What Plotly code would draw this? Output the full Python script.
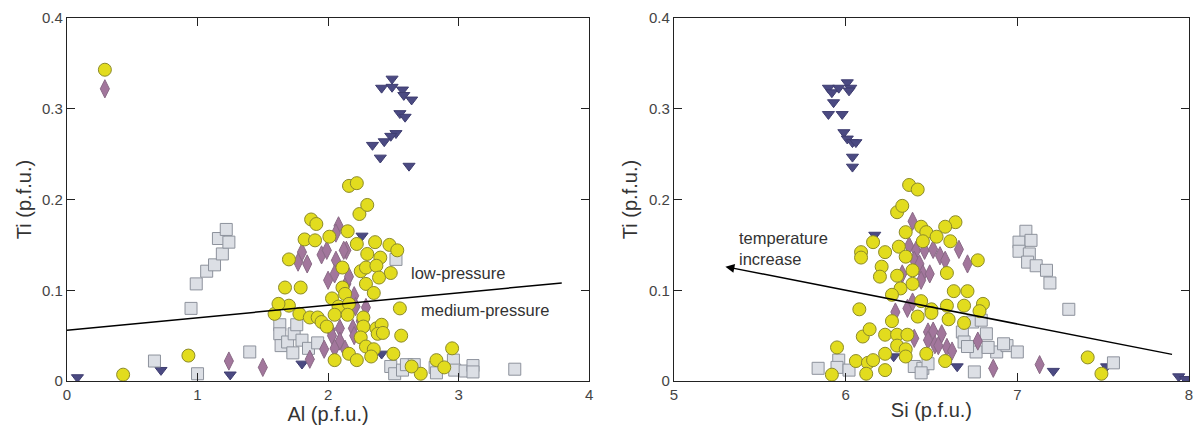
import plotly.graph_objects as go

# ---------------- data: left panel (Al vs Ti) ----------------
al_circle = [0.29, 0.43, 0.93, 2.16, 2.22, 2.24, 2.30, 1.87, 1.91, 1.82, 1.90, 2.01, 2.15, 2.22, 2.36, 2.47,
             2.53, 1.70, 2.30, 2.40, 2.25, 2.29, 2.37, 2.48, 2.39, 2.11, 1.67, 1.79, 2.29, 2.11, 2.13, 2.35,
             2.55, 1.59, 1.70, 1.62, 1.78, 1.86, 1.92, 1.95, 2.03, 2.08, 2.16, 2.05, 2.15, 2.27, 2.27, 2.37,
             2.41, 2.38, 2.25, 2.56, 2.16, 2.29, 2.35, 2.05, 2.22, 2.50, 2.71, 2.83, 2.95, 2.33, 2.64, 2.89,
             1.99, 2.42]
ti_circle_L = [0.343, 0.007, 0.028, 0.215, 0.218, 0.184, 0.194, 0.178, 0.173, 0.156, 0.155, 0.159, 0.165, 0.151,
               0.153, 0.150, 0.144, 0.134, 0.140, 0.136, 0.121, 0.125, 0.127, 0.119, 0.114, 0.125, 0.103, 0.103,
               0.107, 0.103, 0.096, 0.097, 0.080, 0.074, 0.083, 0.085, 0.074, 0.070, 0.070, 0.065, 0.091, 0.082,
               0.085, 0.073, 0.073, 0.070, 0.060, 0.058, 0.062, 0.052, 0.048, 0.050, 0.030, 0.038, 0.035, 0.023,
               0.023, 0.030, 0.008, 0.023, 0.036, 0.027, 0.016, 0.015, 0.060, 0.053]

al_diamond = [0.29, 1.24, 1.50, 2.08, 2.06, 2.14, 1.80, 1.77, 1.84, 1.95, 1.99, 2.06, 2.12, 2.05, 2.00, 2.14,
              2.16, 2.20, 2.21, 2.29, 2.02, 2.09, 2.03, 2.09, 2.05, 2.19, 2.20, 1.86, 2.25, 2.13, 1.97]
ti_diamond_L = [0.322, 0.022, 0.015, 0.171, 0.163, 0.144, 0.142, 0.131, 0.129, 0.139, 0.144, 0.133, 0.144, 0.118,
                0.111, 0.107, 0.115, 0.094, 0.082, 0.081, 0.056, 0.058, 0.050, 0.044, 0.036, 0.058, 0.050, 0.024,
                0.066, 0.035, 0.035]

al_triangle = [0.08, 0.72, 1.25, 1.80, 2.26, 2.41, 2.49, 2.41, 2.49, 2.57, 2.58, 2.64, 2.55, 2.59, 2.52, 2.48,
               2.43, 2.34, 2.40, 2.62]
ti_triangle_L = [0.004, 0.012, 0.007, 0.019, 0.160, 0.030, 0.333, 0.323, 0.324, 0.321, 0.315, 0.310, 0.295, 0.291,
                 0.273, 0.270, 0.264, 0.260, 0.246, 0.237]

al_square = [0.95, 0.99, 1.07, 1.13, 1.19, 1.16, 1.22, 1.24, 0.67, 1.00, 1.40, 1.63, 1.63, 1.64, 1.69, 1.73,
             1.74, 1.76, 1.80, 1.85, 1.92, 2.52, 2.48, 2.51, 2.57, 2.60, 2.66, 2.82, 2.83, 2.96, 2.97, 3.05,
             3.11, 3.11, 3.43]
ti_square_L = [0.080, 0.107, 0.121, 0.128, 0.140, 0.157, 0.167, 0.153, 0.022, 0.008, 0.032, 0.062, 0.052, 0.039,
               0.043, 0.031, 0.052, 0.062, 0.045, 0.036, 0.042, 0.134, 0.016, 0.008, 0.012, 0.018, 0.018, 0.015,
               0.009, 0.023, 0.012, 0.011, 0.017, 0.010, 0.013]

# pressure boundary line (Al, Ti)
line_al = [0.0, 3.79]
line_ti = [0.056, 0.108]

# ---------------- data: right panel (Si vs Ti) ----------------
si_circle = [6.37, 6.42, 6.30, 6.33, 6.35, 6.44, 6.47, 6.64, 6.58, 6.45, 6.53, 6.61, 6.16, 6.09, 6.09, 6.23,
             6.31, 6.35, 6.21, 6.20, 6.30, 6.39, 6.59, 6.77, 6.32, 6.39, 6.27, 6.08, 6.44, 6.50, 6.63, 6.71,
             6.59, 6.69, 6.80, 6.78, 6.42, 6.50, 6.60, 6.69, 6.27, 6.10, 6.14, 6.23, 6.30, 6.36, 6.30, 6.35,
             5.95, 6.06, 6.13, 6.16, 6.23, 6.35, 6.47, 6.58, 6.12, 6.23, 5.92, 7.41, 7.49]
ti_circle_R = [0.216, 0.211, 0.186, 0.193, 0.164, 0.170, 0.164, 0.175, 0.170, 0.154, 0.159, 0.154, 0.153, 0.142,
               0.136, 0.142, 0.148, 0.137, 0.126, 0.115, 0.116, 0.122, 0.119, 0.133, 0.102, 0.107, 0.095, 0.079,
               0.088, 0.079, 0.099, 0.099, 0.083, 0.083, 0.085, 0.077, 0.071, 0.075, 0.068, 0.064, 0.066, 0.049,
               0.057, 0.051, 0.051, 0.051, 0.039, 0.035, 0.037, 0.022, 0.020, 0.023, 0.030, 0.027, 0.030, 0.022,
               0.008, 0.012, 0.007, 0.026, 0.008]

si_diamond = [6.39, 6.37, 6.41, 6.46, 6.51, 6.55, 6.58, 6.66, 6.71, 6.40, 6.43, 6.45, 6.49, 6.44, 6.33, 6.29,
              6.36, 6.39, 6.48, 6.51, 6.48, 6.40, 6.52, 6.54, 6.56, 6.59, 6.62, 6.86, 7.13, 6.77]
ti_diamond_R = [0.176, 0.149, 0.144, 0.144, 0.145, 0.138, 0.133, 0.145, 0.129, 0.133, 0.129, 0.118, 0.118, 0.111,
                0.118, 0.076, 0.080, 0.087, 0.054, 0.055, 0.045, 0.047, 0.040, 0.039, 0.052, 0.037, 0.033, 0.014,
                0.018, 0.044]

si_triangle = [5.90, 5.92, 5.96, 6.01, 6.03, 6.02, 5.93, 5.90, 5.98, 5.99, 6.01, 6.04, 6.06, 6.04, 6.04, 6.17,
               6.28, 6.65, 7.21, 7.52, 7.94, 7.98]
ti_triangle_R = [0.323, 0.318, 0.323, 0.329, 0.323, 0.320, 0.307, 0.294, 0.294, 0.274, 0.267, 0.263, 0.263, 0.247,
                 0.236, 0.161, 0.027, 0.016, 0.011, 0.016, 0.005, 0.002]

si_square = [7.05, 7.01, 7.08, 7.01, 7.07, 7.06, 7.11, 7.17, 7.19, 7.30, 7.56, 5.84, 5.96, 5.95, 6.02, 6.40,
             6.45, 6.48, 6.44, 6.68, 6.69, 6.74, 6.79, 6.82, 6.76, 6.88, 6.94, 7.00, 6.75, 6.71, 6.83, 6.92]
ti_square_R = [0.165, 0.153, 0.155, 0.143, 0.140, 0.131, 0.127, 0.122, 0.108, 0.079, 0.020, 0.014, 0.023, 0.015,
               0.012, 0.016, 0.014, 0.019, 0.009, 0.054, 0.043, 0.065, 0.067, 0.052, 0.032, 0.032, 0.039, 0.032,
               0.010, 0.038, 0.037, 0.041]

# temperature arrow (head, tail) in Si/Ti
arrow_si = [5.30, 7.91]
arrow_ti = [0.126, 0.029]

# ---------------- styles ----------------
FONT = "Liberation Sans, Arial, sans-serif"
circle_style = dict(symbol="circle", size=13, color="#e2dc1e", line=dict(color="#8c8a2a", width=1))
diamond_style = dict(symbol="diamond-tall", size=13, color="#a2769c", line=dict(color="#8a6a86", width=1))
triangle_style = dict(symbol="triangle-down", size=10.5, color="#4b4a82", line=dict(color="#3e3d70", width=1))
square_style = dict(symbol="square", size=12, color="#dcdfe5", line=dict(color="#8d929c", width=1))

fig = go.Figure()

def add_panel(xs, ys, xa, ya):
    (xt, xsq, xd, xc) = xs
    (yt, ysq, yd, yc) = ys
    fig.add_trace(go.Scatter(x=xt, y=yt, mode="markers", marker=triangle_style, xaxis=xa, yaxis=ya, showlegend=False))
    fig.add_trace(go.Scatter(x=xsq, y=ysq, mode="markers", marker=square_style, xaxis=xa, yaxis=ya, showlegend=False))
    fig.add_trace(go.Scatter(x=xd, y=yd, mode="markers", marker=diamond_style, xaxis=xa, yaxis=ya, showlegend=False))
    fig.add_trace(go.Scatter(x=xc, y=yc, mode="markers", marker=circle_style, xaxis=xa, yaxis=ya, showlegend=False))

add_panel((al_triangle, al_square, al_diamond, al_circle),
          (ti_triangle_L, ti_square_L, ti_diamond_L, ti_circle_L), "x", "y")
fig.add_trace(go.Scatter(x=line_al, y=line_ti, mode="lines", line=dict(color="black", width=1.5),
                         xaxis="x", yaxis="y", showlegend=False))
add_panel((si_triangle, si_square, si_diamond, si_circle),
          (ti_triangle_R, ti_square_R, ti_diamond_R, ti_circle_R), "x2", "y2")

axis_common = dict(showline=True, linecolor="#222", linewidth=1.2, mirror="ticks", ticks="inside",
                   ticklen=8, tickcolor="#222", showgrid=False, zeroline=False,
                   tickfont=dict(family=FONT, size=15, color="#444"))
title_font = dict(family=FONT, size=20, color="#333")

fig.update_layout(
    width=1202, height=429,
    margin=dict(l=67, r=9, t=17, b=48),
    paper_bgcolor="white", plot_bgcolor="white",
    font=dict(family=FONT, color="#222"),
    xaxis=dict(domain=[0, 0.4654], range=[0, 4], dtick=1, anchor="y",
               title=dict(text="Al (p.f.u.)", font=title_font, standoff=0), **axis_common),
    yaxis=dict(domain=[0, 1], range=[0, 0.4], dtick=0.1, anchor="x",
               title=dict(text="Ti (p.f.u.)", font=title_font, standoff=5), **axis_common),
    xaxis2=dict(domain=[0.5409, 1], range=[5, 8], dtick=1, anchor="y2",
                title=dict(text="Si (p.f.u.)", font=title_font, standoff=0), **axis_common),
    yaxis2=dict(domain=[0, 1], range=[0, 0.4], dtick=0.1, anchor="x2",
                title=dict(text="Ti (p.f.u.)", font=title_font, standoff=5), **axis_common),
)

ann_font = dict(family=FONT, size=16.5, color="#333")
fig.add_annotation(x=2.62, y=0.119, xref="x", yref="y", text="low-pressure", showarrow=False,
                   xanchor="left", yanchor="middle", font=ann_font)
fig.add_annotation(x=2.70, y=0.0785, xref="x", yref="y", text="medium-pressure", showarrow=False,
                   xanchor="left", yanchor="middle", font=ann_font)
fig.add_annotation(x=5.37, y=0.146, xref="x2", yref="y2", text="temperature<br>increase", showarrow=False,
                   xanchor="left", yanchor="middle", align="left", font=ann_font)
fig.add_annotation(x=arrow_si[0], y=arrow_ti[0], ax=arrow_si[1], ay=arrow_ti[1],
                   xref="x2", yref="y2", axref="x2", ayref="y2", text="", showarrow=True,
                   arrowhead=2, arrowsize=1.2, arrowwidth=1.5, arrowcolor="black")

fig.write_html("out.html")
